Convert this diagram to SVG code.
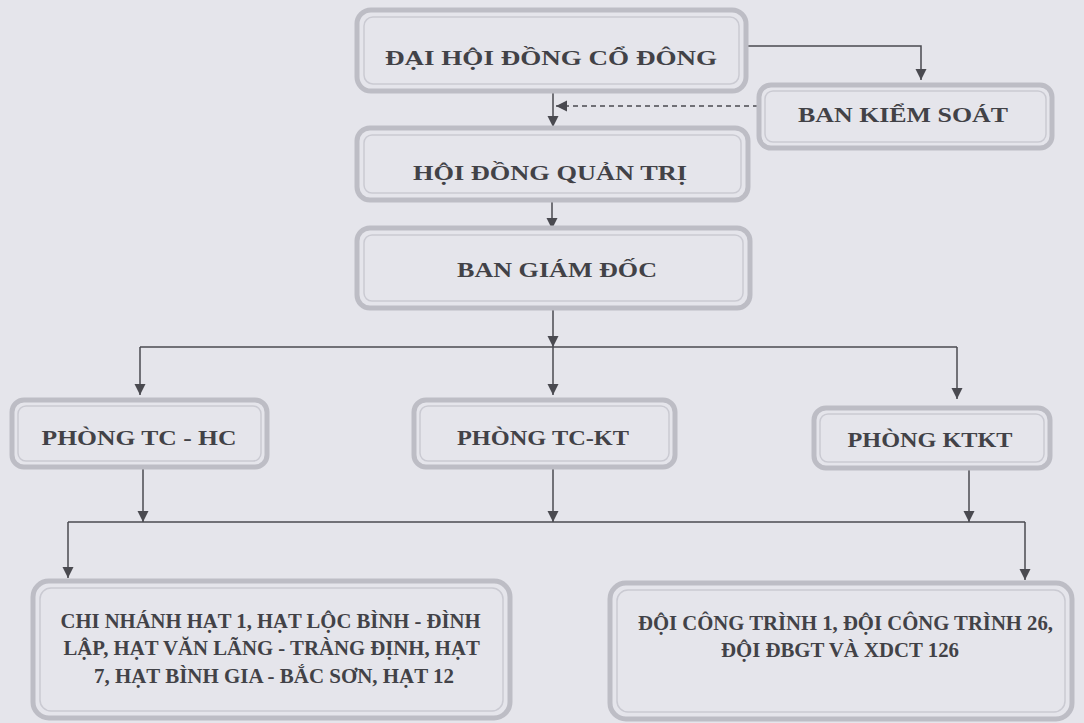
<svg xmlns="http://www.w3.org/2000/svg" width="1084" height="723" viewBox="0 0 1084 723">
<defs>
<style>
.bo{fill:none;stroke:#bdbdc5;stroke-width:5}
.bi{fill:none;stroke:#cacad2;stroke-width:1.5}
.t{font-family:"Liberation Serif","Times New Roman",serif;font-weight:bold;fill:#424247;text-anchor:middle}
.c{fill:none;stroke:#4a4a50;stroke-width:1.5}
.d{fill:none;stroke:#4a4a50;stroke-width:1.3;stroke-dasharray:5,4}
</style>
<marker id="ah" markerUnits="userSpaceOnUse" markerWidth="11" markerHeight="12" refX="11" refY="5.5" orient="auto">
<path d="M0,0 L11,5.5 L0,11 z" fill="#4a4a50"/>
</marker>
</defs>
<rect width="1084" height="723" fill="#e5e5eb"/>

<g id="connectors">
<path class="c" d="M746,46 H921 V80" marker-end="url(#ah)"/>
<path class="d" d="M758,106 H556" marker-end="url(#ah)"/>
<path class="c" d="M553,92 V127" marker-end="url(#ah)"/>
<path class="c" d="M552,200 V229" marker-end="url(#ah)"/>
<path class="c" d="M553,308 V347" marker-end="url(#ah)"/>
<path class="c" d="M140,347 H957"/>
<path class="c" d="M140,347 V395" marker-end="url(#ah)"/>
<path class="c" d="M553,347 V395" marker-end="url(#ah)"/>
<path class="c" d="M957,347 V399" marker-end="url(#ah)"/>
<path class="c" d="M143,467 V522" marker-end="url(#ah)"/>
<path class="c" d="M553,467 V522" marker-end="url(#ah)"/>
<path class="c" d="M969,468 V522" marker-end="url(#ah)"/>
<path class="c" d="M68,522 H1025"/>
<path class="c" d="M68,522 V578" marker-end="url(#ah)"/>
<path class="c" d="M1025,522 V580" marker-end="url(#ah)"/>
</g>

<g id="dai-hoi-dong-co-dong">
<rect class="bo" x="357" y="10" width="389" height="81" rx="14"/>
<rect class="bi" x="364" y="17" width="375" height="67" rx="9"/>
<text class="t" x="551" y="65" font-size="22" textLength="332" lengthAdjust="spacingAndGlyphs">ĐẠI HỘI ĐỒNG CỔ ĐÔNG</text>
</g>

<g id="ban-kiem-soat">
<rect class="bo" x="759" y="85" width="293" height="63" rx="12"/>
<rect class="bi" x="765" y="91" width="281" height="51" rx="8"/>
<text class="t" x="903" y="122" font-size="21" textLength="210" lengthAdjust="spacingAndGlyphs">BAN KIỂM SOÁT</text>
</g>

<g id="hoi-dong-quan-tri">
<rect class="bo" x="357" y="128" width="391" height="72" rx="13"/>
<rect class="bi" x="364" y="135" width="377" height="58" rx="8"/>
<text class="t" x="550" y="180" font-size="22" textLength="274" lengthAdjust="spacingAndGlyphs">HỘI ĐỒNG QUẢN TRỊ</text>
</g>

<g id="ban-giam-doc">
<rect class="bo" x="357" y="228" width="393" height="80" rx="13"/>
<rect class="bi" x="364" y="235" width="379" height="66" rx="8"/>
<text class="t" x="557" y="277" font-size="22" textLength="200" lengthAdjust="spacingAndGlyphs">BAN GIÁM ĐỐC</text>
</g>

<g id="phong-tc-hc">
<rect class="bo" x="12" y="400" width="255" height="67" rx="12"/>
<rect class="bi" x="18" y="406" width="243" height="55" rx="8"/>
<text class="t" x="139" y="445" font-size="22" textLength="195" lengthAdjust="spacingAndGlyphs">PHÒNG TC - HC</text>
</g>

<g id="phong-tc-kt">
<rect class="bo" x="414" y="400" width="261" height="67" rx="12"/>
<rect class="bi" x="420" y="406" width="249" height="55" rx="8"/>
<text class="t" x="543" y="445" font-size="22" textLength="172" lengthAdjust="spacingAndGlyphs">PHÒNG TC-KT</text>
</g>

<g id="phong-ktkt">
<rect class="bo" x="814" y="408" width="236" height="60" rx="12"/>
<rect class="bi" x="820" y="414" width="224" height="48" rx="8"/>
<text class="t" x="930" y="447" font-size="21" textLength="165" lengthAdjust="spacingAndGlyphs">PHÒNG KTKT</text>
</g>

<g id="chi-nhanh-hat">
<rect class="bo" x="33" y="581" width="477" height="137" rx="16"/>
<rect class="bi" x="40" y="588" width="463" height="123" rx="11"/>
<text class="t" font-size="20">
<tspan x="273" y="628" textLength="420" lengthAdjust="spacingAndGlyphs">CHI NHÁNH HẠT 1, HẠT LỘC BÌNH - ĐÌNH</tspan>
<tspan x="274" y="655" textLength="416" lengthAdjust="spacingAndGlyphs">LẬP, HẠT VĂN LÃNG - TRÀNG ĐỊNH, HẠT</tspan>
<tspan x="274" y="683" textLength="360" lengthAdjust="spacingAndGlyphs">7, HẠT BÌNH GIA - BẮC SƠN, HẠT 12</tspan>
</text>
</g>

<g id="doi-cong-trinh">
<rect class="bo" x="610" y="583" width="462" height="136" rx="16"/>
<rect class="bi" x="617" y="590" width="448" height="122" rx="11"/>
<text class="t" font-size="20">
<tspan x="848" y="630" textLength="415" lengthAdjust="spacingAndGlyphs">ĐỘI CÔNG TRÌNH 1, ĐỘI CÔNG TRÌNH 26,</tspan>
<tspan x="840" y="657" textLength="238" lengthAdjust="spacingAndGlyphs">ĐỘI ĐBGT VÀ XDCT 126</tspan>
</text>
</g>
</svg>
